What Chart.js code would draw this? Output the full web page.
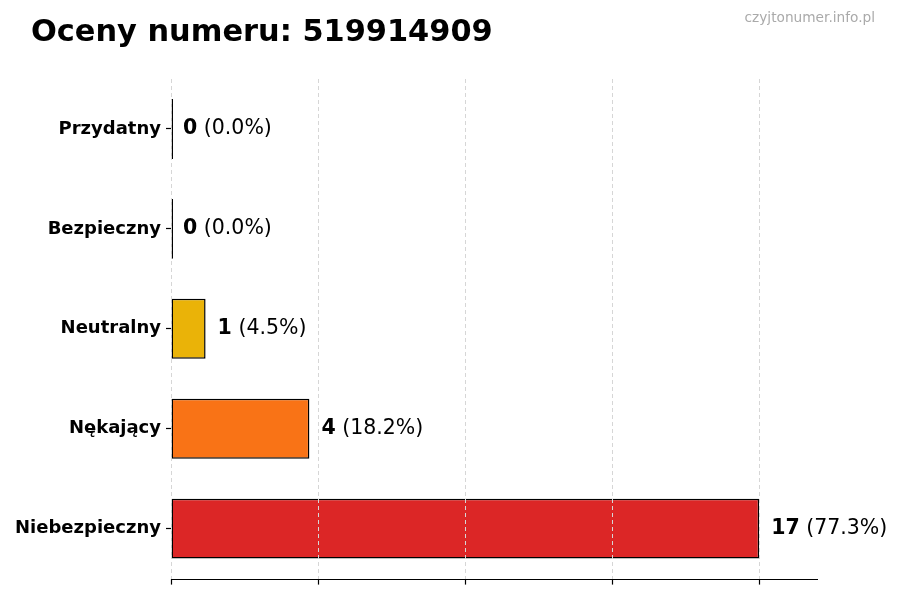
<!DOCTYPE html>
<html>
<head>
<meta charset="utf-8">
<script src="https://cdn.jsdelivr.net/npm/chart.js@4.4.1/dist/chart.umd.min.js"></script>
<style>
  html, body { margin: 0; padding: 0; background: #fff; }
  #wrap { width: 900px; height: 600px; position: relative; }
</style>
</head>
<body>
<div id="wrap"><canvas id="ratingsChart"></canvas></div>
<script>
const categories = ["Przydatny", "Bezpieczny", "Neutralny", "Nękający", "Niebezpieczny"]
const counts = [0, 0, 1, 4, 17]
const barColors = ["#22c55e", "#3b82f6", "#eab308", "#f97316", "#dc2626"]
const xTicks = [0, 4.25, 8.5, 12.75, 17]
const titleText = "Oceny numeru: 519914909"
const watermark = "czyjtonumer.info.pl"

const FONT = "'DejaVu Sans', sans-serif"
let total = counts.reduce(function (a, b) { return a + b; }, 0);

// title, watermark, bottom spine and the "n (x%)" labels next to each bar
const extras = {
    id: "extras",
    afterDraw(chart) {
        const ctx = chart.ctx
        const area = chart.chartArea
        ctx.save()
        ctx.fillStyle = "#000"
        ctx.font = "bold 30.4px " + FONT
        ctx.textBaseline = "alphabetic"
        ctx.textAlign = "left"
        ctx.fillText(titleText, 31, 41)

        ctx.fillStyle = "#aaaaaa"
        ctx.font = "13.7px " + FONT
        ctx.textAlign = "right"
        ctx.fillText(watermark, 875, 22)

        ctx.strokeStyle = "#000"
        ctx.lineWidth = 1.2
        ctx.beginPath()
        ctx.moveTo(area.left, Math.round(area.bottom) + 0.5)
        ctx.lineTo(area.right, Math.round(area.bottom) + 0.5)
        ctx.stroke()

        const meta = chart.getDatasetMeta(0)
        ctx.textAlign = "left"
        ctx.textBaseline = "middle"
        meta.data.forEach((bar, i) => {
            let x = chart.scales.x.getPixelForValue(counts[i]) + 12
            let num = String(counts[i])
            let pct = " (" + (total ? (counts[i] / total * 100) : 0).toFixed(1) + "%)"
            ctx.fillStyle = "#000"
            ctx.font = "bold 20.5px " + FONT
            ctx.fillText(num, x, bar.y)
            x += ctx.measureText(num).width
            ctx.font = "20.5px " + FONT
            ctx.fillText(pct, x, bar.y)
        })
        ctx.restore()
    }
}

let ratingsChart = new Chart(document.getElementById("ratingsChart"), {
    type: "bar",
    data: {
        labels: categories,
        datasets: [{
            data: counts,
            backgroundColor: barColors,
            borderColor: "#000",
            borderWidth: 1.5,
            borderSkipped: false,
            minBarLength: 2,
            categoryPercentage: 1,
            barPercentage: 0.6
        }]
    },
    options: {
        indexAxis: "y",
        responsive: true,
        maintainAspectRatio: false,
        animation: false,
        layout: { padding: { top: 79, right: 82, bottom: 1, left: 0 } },
        plugins: { legend: { display: false }, tooltip: { enabled: false } },
        scales: {
            x: {
                min: 0,
                max: 18.7,
                afterBuildTicks: (scale) => { scale.ticks = xTicks.map(v => ({ value: v })) },
                ticks: { callback: () => "", padding: 0 },
                grid: {
                    z: 1,
                    color: "#d6d6d6",
                    tickColor: "#000",
                    tickLength: 6,
                    tickWidth: 1.2,
                    tickBorderDash: []
                },
                border: { display: false, dash: [4, 3] }
            },
            y: {
                afterFit: (scale) => { scale.width = 171 },
                ticks: {
                    color: "#000",
                    font: { family: FONT, size: 18, weight: "bold" },
                    padding: 5
                },
                grid: { offset: false, drawOnChartArea: false, tickLength: 5, tickWidth: 1.2, tickColor: "#000" },
                border: { display: false }
            }
        }
    },
    plugins: [extras]
});
</script>
</body>
</html>
